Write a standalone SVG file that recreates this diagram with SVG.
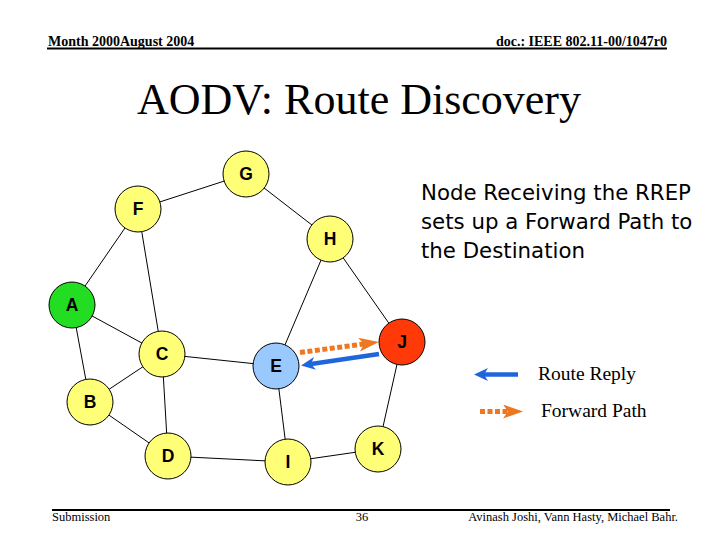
<svg xmlns="http://www.w3.org/2000/svg" width="720" height="540" viewBox="0 0 720 540">
<style>
.hdr{font-family:"Liberation Serif",serif;font-size:14px;font-weight:bold;fill:#000}
.ftr{font-family:"Liberation Serif",serif;font-size:12.5px;fill:#000}
.title{font-family:"Liberation Serif",serif;font-size:44px;fill:#000}
.note{font-family:"DejaVu Sans",sans-serif;font-size:21.3px;fill:#000}
.leg{font-family:"Liberation Serif",serif;font-size:19.5px;fill:#000}
.edge{stroke:#000;stroke-width:1;fill:none}
.node circle{stroke:#000;stroke-width:1}
.y{fill:#FFFF77}
.lbl{font-family:"Liberation Sans",sans-serif;font-size:17.5px;font-weight:bold;fill:#000;text-anchor:middle}
.rrep{stroke:#1F66DD;stroke-width:4.5;fill:none}
.fwd{stroke:#EE7722;stroke-width:5;stroke-dasharray:5 2.5;fill:none}
</style>
<defs>
<marker id="hb" viewBox="0 0 14 13" refX="4" refY="6.5" markerWidth="14" markerHeight="13" orient="auto" markerUnits="userSpaceOnUse" preserveAspectRatio="none">
<path d="M0,0 L14,6.5 L0,13 L4,6.5 Z" fill="#1F66DD"/>
</marker>
<marker id="ho" viewBox="0 0 20 14" refX="5" refY="7" markerWidth="20" markerHeight="14" orient="auto" markerUnits="userSpaceOnUse" preserveAspectRatio="none">
<path d="M0,0 L20,7 L0,14 L5,7 Z" fill="#EE7722"/>
</marker>
</defs>
<rect width="720" height="540" fill="#fff"/>

<g id="header">
<text class="hdr" x="48" y="46">Month 2000August 2004</text>
<text class="hdr" x="667" y="46" text-anchor="end">doc.: IEEE 802.11-00/1047r0</text>
<line x1="47" y1="48.5" x2="667" y2="48.5" stroke="#000" stroke-width="2"/>
</g>

<text class="title" x="359" y="114" text-anchor="middle">AODV: Route Discovery</text>

<g id="connectors">
<line class="edge" x1="246" y1="174" x2="138" y2="209"/>
<line class="edge" x1="246" y1="174" x2="330" y2="239"/>
<line class="edge" x1="138" y1="209" x2="72" y2="305"/>
<line class="edge" x1="138" y1="209" x2="162" y2="354"/>
<line class="edge" x1="330" y1="239" x2="276" y2="366"/>
<line class="edge" x1="330" y1="239" x2="402" y2="342"/>
<line class="edge" x1="72" y1="305" x2="162" y2="354"/>
<line class="edge" x1="72" y1="305" x2="90" y2="402"/>
<line class="edge" x1="162" y1="354" x2="90" y2="402"/>
<line class="edge" x1="162" y1="354" x2="276" y2="366"/>
<line class="edge" x1="162" y1="354" x2="168" y2="456"/>
<line class="edge" x1="90" y1="402" x2="168" y2="456"/>
<line class="edge" x1="168" y1="456" x2="288" y2="462"/>
<line class="edge" x1="276" y1="366" x2="288" y2="462"/>
<line class="edge" x1="288" y1="462" x2="378" y2="449"/>
<line class="edge" x1="402" y1="342" x2="378" y2="449"/>
</g>

<g id="node-G" class="node"><circle class="y" cx="246" cy="174" r="23"/><text class="lbl" x="246" y="180">G</text></g>
<g id="node-F" class="node"><circle class="y" cx="138" cy="209" r="23"/><text class="lbl" x="138" y="215">F</text></g>
<g id="node-H" class="node"><circle class="y" cx="330" cy="239" r="23"/><text class="lbl" x="330" y="245">H</text></g>
<g id="node-A" class="node"><circle cx="72" cy="305" r="23" fill="#22DD22"/><text class="lbl" x="72" y="311">A</text></g>
<g id="node-C" class="node"><circle class="y" cx="162" cy="354" r="23"/><text class="lbl" x="162" y="360">C</text></g>
<g id="node-E" class="node"><circle cx="276" cy="366" r="23" fill="#99C9FF"/><text class="lbl" x="276" y="372">E</text></g>
<g id="node-J" class="node"><circle cx="402" cy="342" r="23" fill="#FF3A08"/><text class="lbl" x="402" y="348">J</text></g>
<g id="node-B" class="node"><circle class="y" cx="90" cy="402" r="23"/><text class="lbl" x="90" y="408">B</text></g>
<g id="node-D" class="node"><circle class="y" cx="168" cy="456" r="23"/><text class="lbl" x="168" y="462">D</text></g>
<g id="node-I" class="node"><circle class="y" cx="288" cy="462" r="23"/><text class="lbl" x="288" y="468">I</text></g>
<g id="node-K" class="node"><circle class="y" cx="378" cy="449" r="23"/><text class="lbl" x="378" y="455">K</text></g>

<g id="route-arrows">
<line class="fwd" x1="300" y1="352.5" x2="364" y2="344" marker-end="url(#ho)"/>
<line class="rrep" x1="379" y1="354" x2="311" y2="364" marker-end="url(#hb)"/>
</g>

<g id="note">
<text class="note" x="421" y="200">Node Receiving the RREP</text>
<text class="note" x="421" y="229">sets up a Forward Path to</text>
<text class="note" x="421" y="258">the Destination</text>
</g>

<g id="legend">
<line class="rrep" x1="518" y1="374.5" x2="484" y2="374.5" marker-end="url(#hb)"/>
<text class="leg" x="538" y="380">Route Reply</text>
<line class="fwd" x1="480" y1="411.5" x2="508" y2="411.5" marker-end="url(#ho)"/>
<text class="leg" x="541" y="417">Forward Path</text>
</g>

<g id="footer">
<line x1="52" y1="510" x2="670" y2="510" stroke="#000" stroke-width="2"/>
<text class="ftr" x="52" y="521">Submission</text>
<text class="ftr" x="362" y="521" text-anchor="middle">36</text>
<text class="ftr" x="678" y="521" text-anchor="end">Avinash Joshi, Vann Hasty, Michael Bahr.</text>
</g>
</svg>
